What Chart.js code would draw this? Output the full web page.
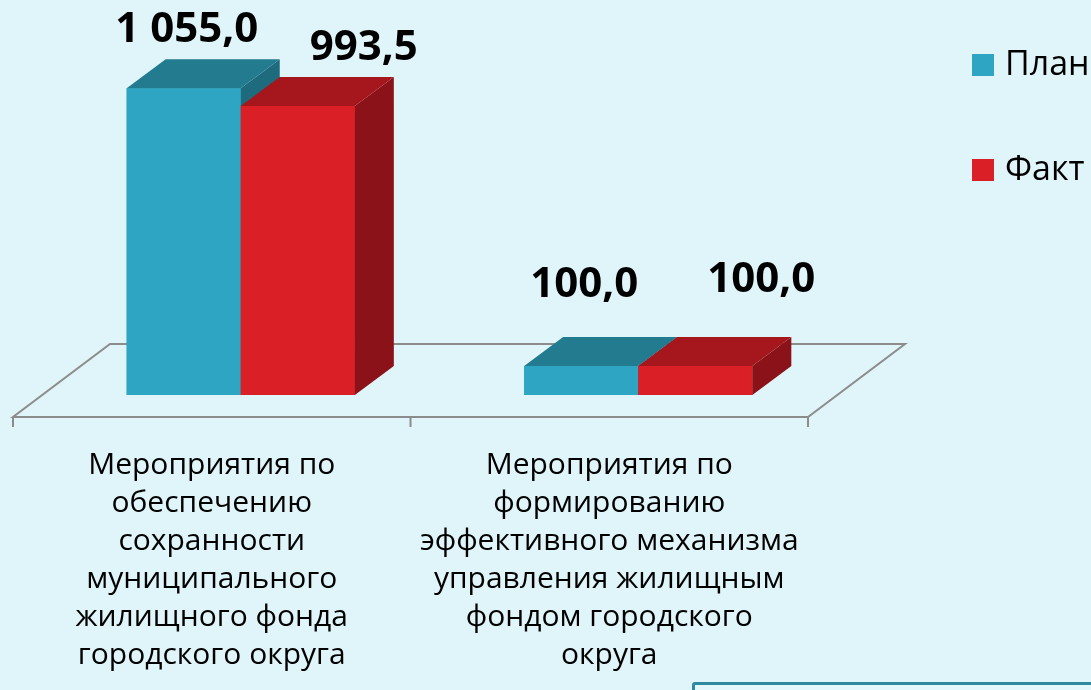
<!DOCTYPE html>
<html>
<head>
<meta charset="utf-8">
<script src="https://cdn.jsdelivr.net/npm/chart.js@4"></script>
<style>
    html, body { margin: 0; padding: 0; background: #dff5f9; overflow: hidden; }
    #wrap { position: relative; width: 1091px; height: 690px; }
    #note { position: absolute; left: 692px; top: 682px; width: 420px; height: 40px;
            border: 3px solid #2f8aa0; border-radius: 3px; background: #e4f7fa; }
</style>
</head>
<body>
<div id="wrap">
    <canvas id="myChart" width="1091" height="690"></canvas>
    <div id="note"></div>
</div>
<script>
var categories = [
    ['Мероприятия по', 'обеспечению', 'сохранности', 'муниципального', 'жилищного фонда', 'городского округа'],
    ['Мероприятия по', 'формированию', 'эффективного механизма', 'управления жилищным', 'фондом городского', 'округа']
];
var seriesNames = ['План', 'Факт'];
var planValues = [1055.0, 100.0];
var factValues = [993.5, 100.0];

var fontFamily = "'Open Sans', 'Noto Sans', sans-serif";

// front / top / side colours of the boxes
var faceColors = [
    { front: '#2ea5c2', top: '#237b8f', side: '#1e6b7e' },
    { front: '#da1f27', top: '#a5171c', side: '#8b1218' }
];

// 3d offsets
var depth = { dx: 39, dy: -29 };
var floorFront = { dx: -29, dy: 22 };
var floorBack = { dx: 68, dy: -51 };
var labelShift = [3, 66];

function fmt(v) {
    var parts = v.toFixed(1).split('.');
    var intPart = parts[0].replace(/\B(?=(\d{3})+(?!\d))/g, ' ');
    return intPart + ',' + parts[1];
}

function poly(ctx, pts, color) {
    ctx.beginPath();
    ctx.moveTo(pts[0][0], pts[0][1]);
    for (var i = 1; i < pts.length; i++) ctx.lineTo(pts[i][0], pts[i][1]);
    ctx.closePath();
    ctx.fillStyle = color;
    ctx.fill();
}

var bars3d = {
    id: 'bars3d',
    beforeDatasetsDraw: function (chart) {
        var ctx = chart.ctx;
        var area = chart.chartArea;
        var y0 = chart.scales.y.getPixelForValue(0);
        var fy = y0 + floorFront.dy, by = y0 + floorBack.dy;
        var lx = area.left + floorFront.dx, rx = area.right + floorFront.dx;
        ctx.save();
        ctx.strokeStyle = '#8c8c8c';
        ctx.lineWidth = 2;
        ctx.beginPath();
        ctx.moveTo(lx, fy);
        ctx.lineTo(rx, fy);
        ctx.lineTo(area.right + floorBack.dx, by);
        ctx.lineTo(area.left + floorBack.dx, by);
        ctx.closePath();
        ctx.stroke();
        // ticks between categories
        var n = categories.length;
        var step = (area.right - area.left) / n;
        ctx.beginPath();
        for (var i = 0; i <= n; i++) {
            var tx = area.left + i * step + floorFront.dx;
            ctx.moveTo(tx, fy);
            ctx.lineTo(tx, fy + 10);
        }
        ctx.stroke();
        ctx.restore();
    },
    afterDatasetsDraw: function (chart) {
        var ctx = chart.ctx;
        var y0 = chart.scales.y.getPixelForValue(0);
        ctx.save();
        for (var i = 0; i < categories.length; i++) {
            for (var d = 0; d < chart.data.datasets.length; d++) {
                var bar = chart.getDatasetMeta(d).data[i];
                var c = faceColors[d];
                var x0 = bar.x - bar.width / 2, x1 = bar.x + bar.width / 2;
                var top = bar.y, base = bar.base;
                poly(ctx, [[x0, top], [x1, top], [x1, base], [x0, base]], c.front);
                poly(ctx, [[x1, top], [x1 + depth.dx, top + depth.dy], [x1 + depth.dx, base + depth.dy], [x1, base]], c.side);
                poly(ctx, [[x0, top], [x0 + depth.dx, top + depth.dy], [x1 + depth.dx, top + depth.dy], [x1, top]], c.top);
            }
        }
        // value labels
        ctx.fillStyle = '#000';
        ctx.font = 'bold 42px ' + fontFamily;
        ctx.textAlign = 'center';
        ctx.textBaseline = 'alphabetic';
        for (var d2 = 0; d2 < chart.data.datasets.length; d2++) {
            var meta = chart.getDatasetMeta(d2);
            meta.data.forEach(function (bar, j) {
                var v = chart.data.datasets[d2].data[j];
                var ly = Math.min(bar.y - 46, y0 - 98 - d2 * 5);
                ctx.fillText(fmt(v), bar.x + labelShift[d2], ly);
            });
        }
        ctx.restore();
    },
    afterDraw: function (chart) {
        var ctx = chart.ctx;
        ctx.save();
        ctx.font = '34px ' + fontFamily;
        ctx.textBaseline = 'middle';
        ctx.textAlign = 'left';
        chart.data.datasets.forEach(function (ds, k) {
            var cy = 65 + k * 105;
            ctx.fillStyle = faceColors[k].front;
            ctx.fillRect(972, cy - 11, 22, 22);
            ctx.fillStyle = '#000';
            ctx.fillText(ds.label, 1005, cy);
        });
        ctx.restore();
    }
};

var ctx = document.getElementById('myChart').getContext('2d');
new Chart(ctx, {
    type: 'bar',
    data: {
        labels: categories,
        datasets: [
            { label: seriesNames[0], data: planValues, backgroundColor: faceColors[0].front },
            { label: seriesNames[1], data: factValues, backgroundColor: faceColors[1].front }
        ]
    },
    options: {
        responsive: false,
        animation: false,
        devicePixelRatio: 1,
        layout: { padding: { left: 42, right: 254, top: 46, bottom: 0 } },
        datasets: { bar: { barPercentage: 1, categoryPercentage: 0.574, borderWidth: 0 } },
        plugins: { legend: { display: false }, tooltip: { enabled: false } },
        scales: {
            x: {
                grid: { display: false, drawTicks: false },
                border: { display: false },
                afterFit: function (scale) { scale.height = 295; },
                ticks: {
                    color: '#000',
                    font: { family: fontFamily, size: 30, lineHeight: 38 / 30 },
                    padding: 51,
                    labelOffset: -29,
                    maxRotation: 0,
                    autoSkip: false
                }
            },
            y: { display: false, min: 0, max: 1200 }
        }
    },
    plugins: [bars3d]
});
</script>
</body>
</html>
